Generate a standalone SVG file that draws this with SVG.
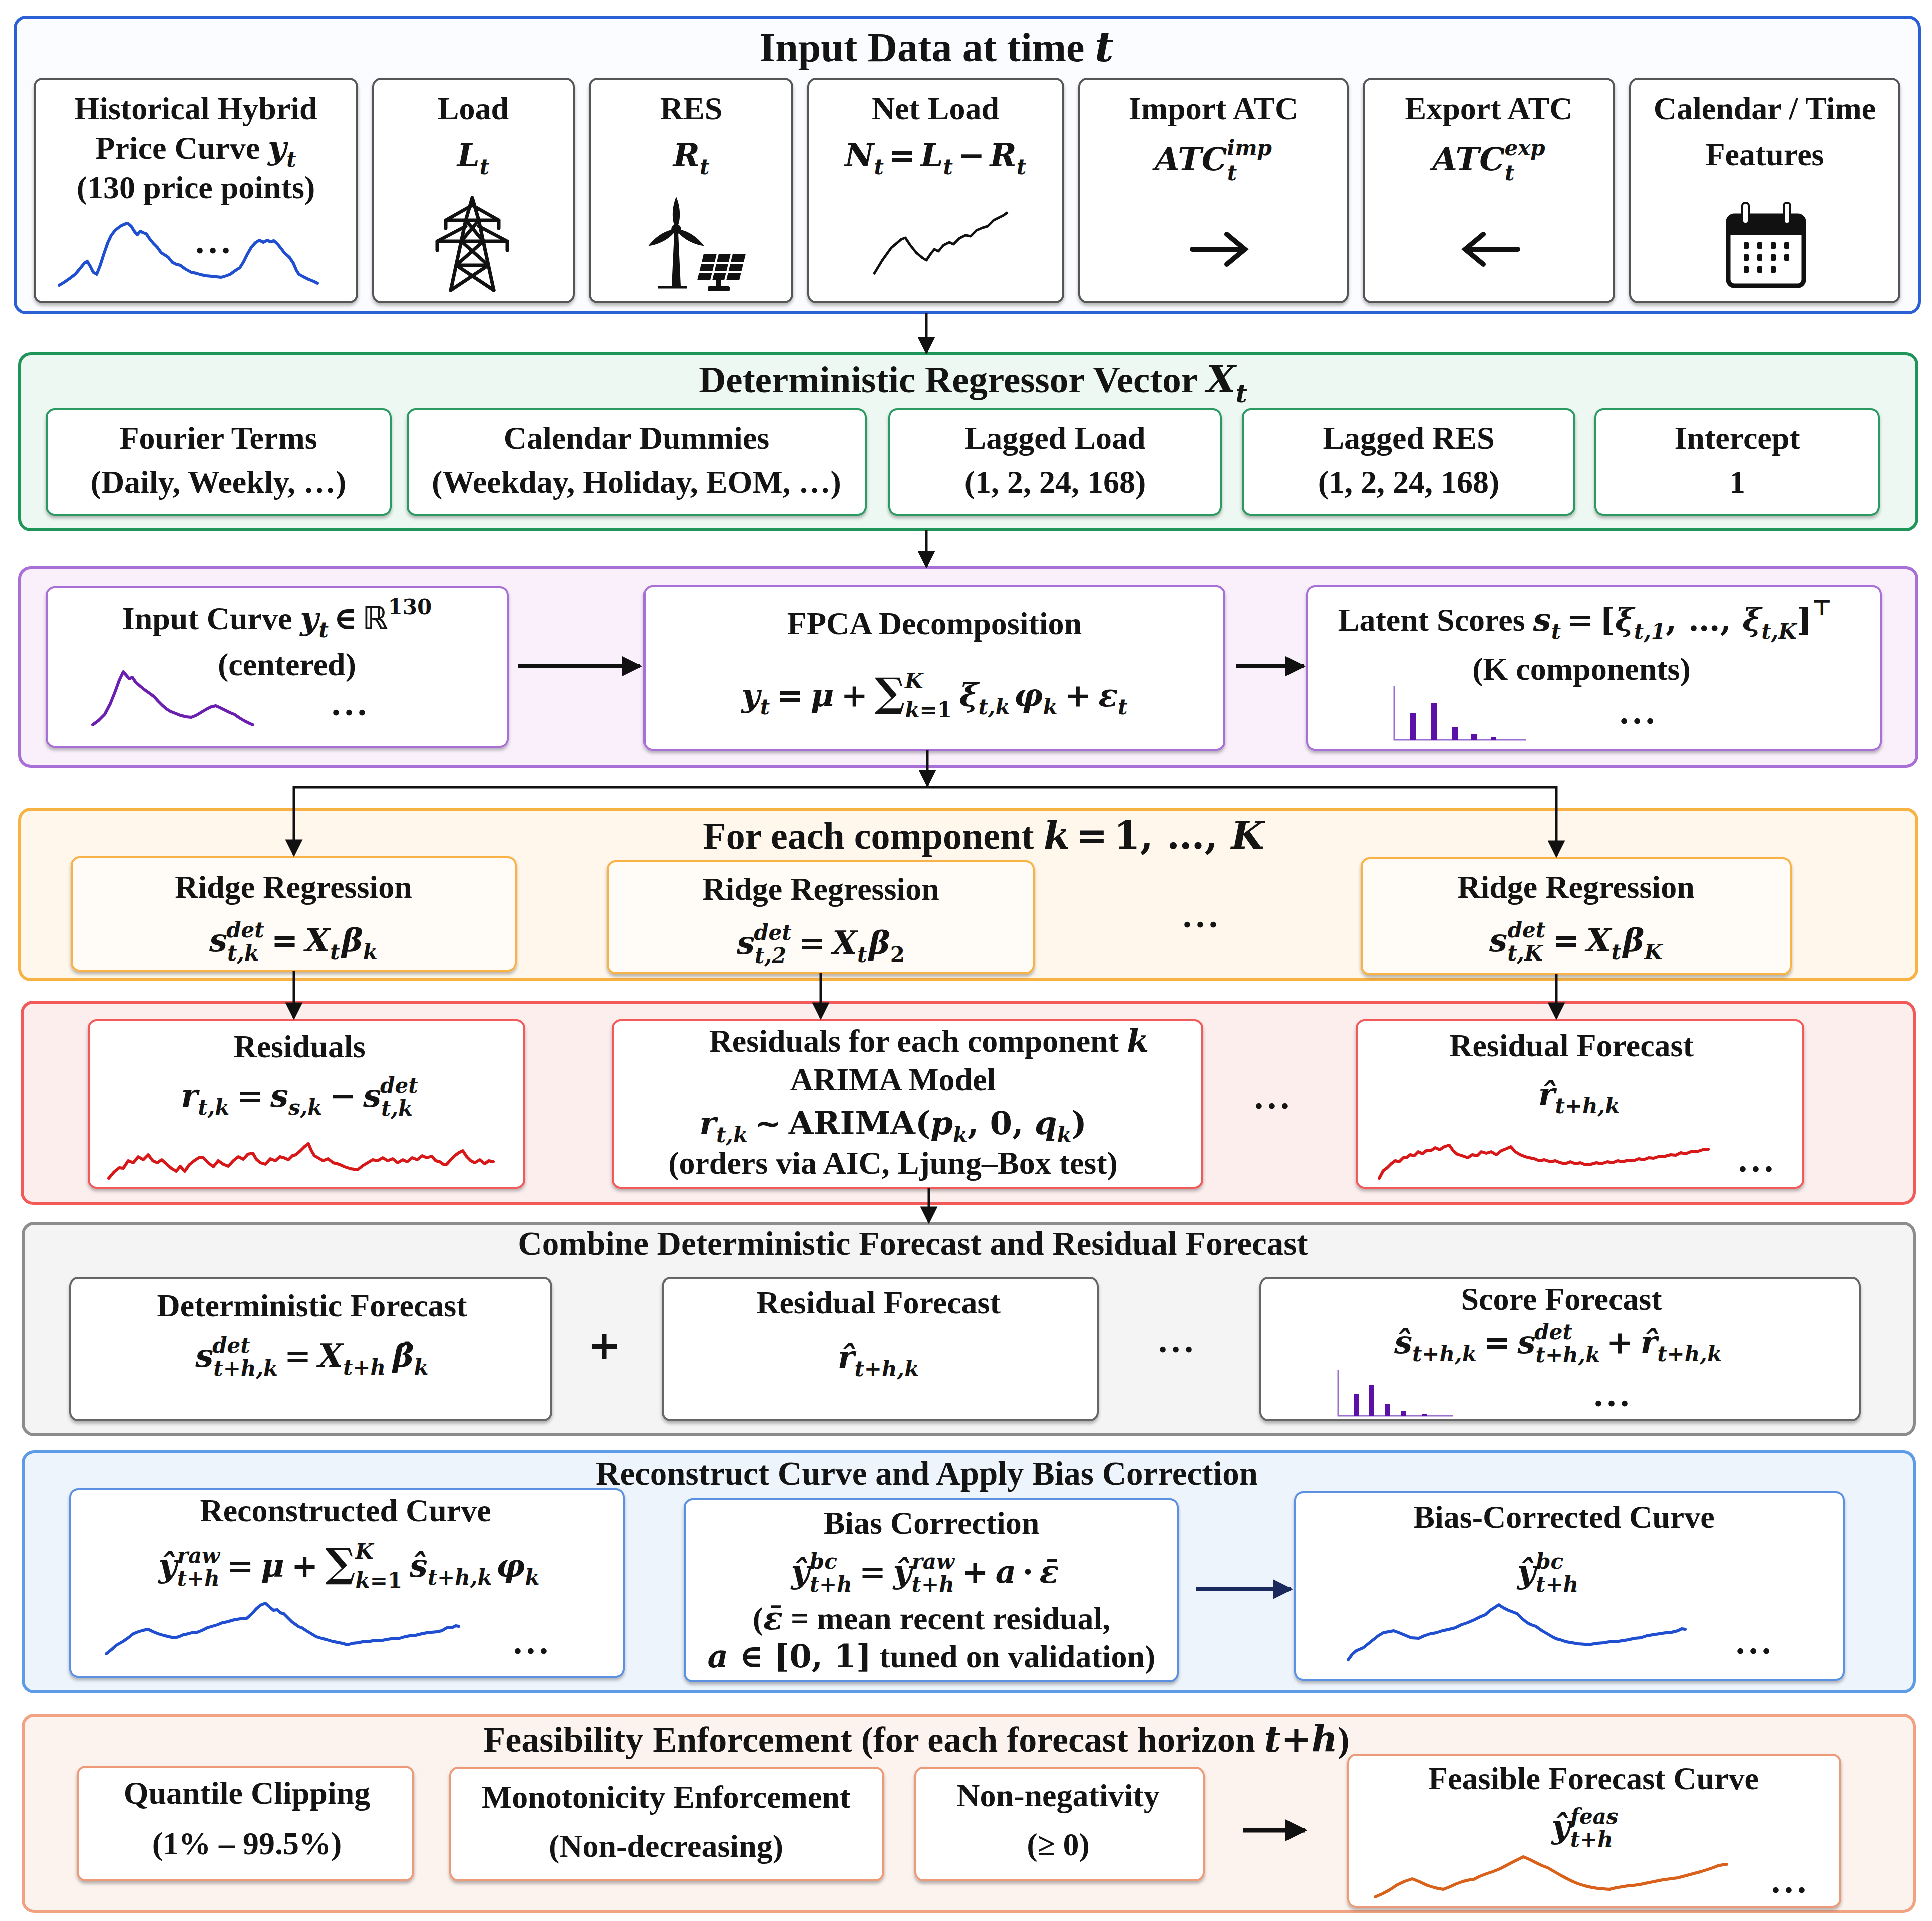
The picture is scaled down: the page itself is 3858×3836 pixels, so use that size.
<svg xmlns="http://www.w3.org/2000/svg" width="3858" height="3836" viewBox="0 0 3858 3836">
<defs>
<style>
text{font-family:"Liberation Serif","DejaVu Serif",serif;font-weight:bold;fill:#141414;text-anchor:middle}
.h1{font-size:82px}.h2{font-size:75px}.h4{font-size:76px}.h6{font-size:67px}.h7{font-size:67px}.h8{font-size:72px}
.b{font-size:64px}
.mf{font-family:"DejaVu Serif","DejaVu Sans",serif;font-size:64px}
.mi{font-family:"DejaVu Serif","DejaVu Sans",serif;font-style:italic}
.mu{font-family:"DejaVu Serif","DejaVu Sans",serif;font-style:normal}
.s{font-size:42px}
.dots{font-size:72px;letter-spacing:8px}
.sec{stroke-width:6}
.box{fill:#fff;stroke-width:4;filter:url(#sh)}
.conn{stroke:#111;stroke-width:5;fill:none;marker-end:url(#ah)}
.conn2{stroke:#111;stroke-width:8;fill:none;marker-end:url(#ah2)}
.curve{fill:none;stroke-width:6;stroke-linejoin:round;stroke-linecap:round}
.ic{fill:none;stroke:#111;stroke-width:7;stroke-linecap:round;stroke-linejoin:round}
</style>
<filter id="sh" x="-5%" y="-5%" width="110%" height="115%"><feDropShadow dx="0" dy="5" stdDeviation="3" flood-color="#000" flood-opacity="0.28"/></filter>
<marker id="ah" viewBox="0 0 10 10" refX="9" refY="5" markerWidth="8" markerHeight="7" orient="auto" markerUnits="strokeWidth"><path d="M0,0 L10,5 L0,10 z" fill="#111"/></marker>
<marker id="ah2" viewBox="0 0 10 10" refX="9" refY="5" markerWidth="5" markerHeight="5" orient="auto" markerUnits="strokeWidth"><path d="M0,0 L10,5 L0,10 z" fill="#111"/></marker>
<marker id="ah3" viewBox="0 0 10 10" refX="9" refY="5" markerWidth="5" markerHeight="5" orient="auto" markerUnits="strokeWidth"><path d="M0,0 L10,5 L0,10 z" fill="#1b2a5c"/></marker>
<path id="blade" d="M1350,458 C1339,440 1342,412 1350,393 C1358,412 1361,440 1350,458 Z"/>
</defs>
<rect width="3858" height="3836" fill="#ffffff"/>

<!-- ===== Section 1: Input Data ===== -->
<g id="sec-input">
<rect x="30" y="34" width="3803" height="591" rx="22" class="sec" fill="#fbfcff" stroke="#2b5fd4"/>
<text x="1870" y="122" class="h1">Input Data at time <tspan class="mi">t</tspan></text>
</g>
<g id="node-hist">
<rect x="69" y="157" width="644" height="447" rx="16" class="box" stroke="#555"/>
<text x="391" y="238" class="b">Historical Hybrid</text>
<text x="391" y="317" class="b">Price Curve <tspan class="mi">y</tspan><tspan class="mi s" dy="16">t</tspan></text>
<text x="391" y="396" class="b">(130 price points)</text>
<polyline class="curve" stroke="#1f4fd0" points="118,570 128,564 138,557 150,548 160,536 168,526 174,522 180,532 186,544 193,548 200,530 208,505 215,485 222,470 230,460 240,452 248,448 255,446 262,452 268,462 274,469 280,462 286,465 292,467 298,476 306,486 314,494 322,505 330,510 336,514 344,524 352,528 360,530 368,536 373,539 382,544 392,546 402,549 412,551 423,552 432,553 442,554 452,551 460,548 468,542 474,538 479,535 486,524 494,508 502,494 510,485 518,480 526,484 534,480 540,483 547,481 554,487 561,496 568,505 578,514 586,526 592,540 597,548 606,553 616,558 626,562 634,566"/>
<text x="429" y="506" class="dots">...</text>
</g>
<g id="node-load">
<rect x="745" y="157" width="401" height="447" rx="16" class="box" stroke="#555"/>
<text x="945" y="238" class="b">Load</text>
<text x="945" y="332" class="b"><tspan class="mi">L</tspan><tspan class="mi s" dy="16">t</tspan></text>
<g class="ic">
<path d="M943,395 L930,440 L900,580 M943,395 L956,440 L986,580"/>
<path d="M890,456 L890,440 L996,440 L996,456 M943,410 L890,440 M943,410 L996,440"/>
<path d="M873,500 L873,482 L1013,482 L1013,500 M930,452 L873,482 M956,452 L1013,482"/>
<path d="M930,440 L965,482 M956,440 L921,482 M921,482 L975,530 M965,482 L911,530 M911,530 L975,530 M911,530 L986,580 M975,530 L900,580"/>
</g>
</g>
<g id="node-res">
<rect x="1178" y="157" width="404" height="447" rx="16" class="box" stroke="#555"/>
<text x="1380" y="238" class="b">RES</text>
<text x="1380" y="332" class="b"><tspan class="mi">R</tspan><tspan class="mi s" dy="16">t</tspan></text>
<path d="M1346,466 L1354,466 L1359,572 L1341,572 Z" fill="#111"/>
<line x1="1313" y1="574" x2="1372" y2="574" stroke="#111" stroke-width="5"/>
<use href="#blade" fill="#111"/>
<use href="#blade" fill="#111" transform="rotate(121 1350 458)"/>
<use href="#blade" fill="#111" transform="rotate(239 1350 458)"/>
<circle cx="1350" cy="458" r="10" fill="#111"/>
<polygon points="1405,507 1489,507 1476,560 1392,560" fill="#111"/>
<path d="M1400,525 L1485,525 M1396,543 L1481,543 M1433,507 L1420,560 M1461,507 L1448,560" stroke="#fff" stroke-width="4"/>
<rect x="1430" y="560" width="10" height="14" fill="#111"/>
<rect x="1413" y="572" width="44" height="10" rx="3" fill="#111"/>
</g>
<g id="node-netload">
<rect x="1614" y="157" width="509" height="447" rx="16" class="box" stroke="#555"/>
<text x="1868" y="238" class="b">Net Load</text>
<text x="1868" y="332" class="b"><tspan class="mi">N</tspan><tspan class="mi s" dy="16">t</tspan><tspan class="mu" dx="10" dy="-16">=</tspan><tspan class="mi" dx="10">L</tspan><tspan class="mi s" dy="16">t</tspan><tspan class="mu" dx="10" dy="-16">−</tspan><tspan class="mi" dx="10">R</tspan><tspan class="mi s" dy="16">t</tspan></text>
<polyline fill="none" stroke="#111" stroke-width="5" stroke-linejoin="round" points="1745,548 1762,520 1780,495 1800,478 1808,475 1818,490 1830,505 1842,515 1850,520 1858,508 1866,498 1874,502 1884,490 1896,484 1904,488 1916,476 1928,470 1938,472 1950,460 1962,455 1972,452 1984,440 1996,434 2004,430 2012,424"/>
</g>
<g id="node-import">
<rect x="2155" y="157" width="536" height="447" rx="16" class="box" stroke="#555"/>
<text x="2423" y="238" class="b">Import ATC</text>
<text x="2423" y="340" class="b"><tspan class="mi">ATC</tspan><tspan class="mi s" dy="20">t</tspan><tspan class="mi s" dx="-20" dy="-50">imp</tspan></text>
<path d="M2381,498 L2480,498 M2450,468 L2486,498 L2450,528" fill="none" stroke="#111" stroke-width="10" stroke-linecap="round"/>
</g>
<g id="node-export">
<rect x="2723" y="157" width="500" height="447" rx="16" class="box" stroke="#555"/>
<text x="2973" y="238" class="b">Export ATC</text>
<text x="2973" y="340" class="b"><tspan class="mi">ATC</tspan><tspan class="mi s" dy="20">t</tspan><tspan class="mi s" dx="-20" dy="-50">exp</tspan></text>
<path d="M3031,498 L2932,498 M2962,468 L2926,498 L2962,528" fill="none" stroke="#111" stroke-width="10" stroke-linecap="round"/>
</g>
<g id="node-calendar">
<rect x="3255" y="157" width="538" height="447" rx="16" class="box" stroke="#555"/>
<text x="3524" y="238" class="b">Calendar / Time</text>
<text x="3524" y="330" class="b">Features</text>
<rect x="3451" y="431" width="151" height="140" rx="12" fill="#fff" stroke="#111" stroke-width="9"/>
<path d="M3451,470 V443 Q3451,431 3463,431 H3590 Q3602,431 3602,443 V470 Z" fill="#111"/>
<rect x="3479" y="405" width="13" height="42" rx="6" fill="#fff" stroke="#111" stroke-width="4"/>
<rect x="3562" y="405" width="13" height="42" rx="6" fill="#fff" stroke="#111" stroke-width="4"/>
<g fill="#111">
<rect x="3482" y="484" width="10" height="13" rx="2"/><rect x="3509" y="484" width="10" height="13" rx="2"/><rect x="3536" y="484" width="10" height="13" rx="2"/><rect x="3563" y="484" width="10" height="13" rx="2"/>
<rect x="3482" y="508" width="10" height="13" rx="2"/><rect x="3509" y="508" width="10" height="13" rx="2"/><rect x="3536" y="508" width="10" height="13" rx="2"/><rect x="3563" y="508" width="10" height="13" rx="2"/>
<rect x="3482" y="532" width="10" height="13" rx="2"/><rect x="3509" y="532" width="10" height="13" rx="2"/><rect x="3536" y="532" width="10" height="13" rx="2"/>
</g>
</g>

<!-- ===== Section 2: Deterministic Regressor Vector ===== -->
<g id="sec-regressor">
<rect x="39" y="706" width="3789" height="352" rx="22" class="sec" fill="#eef8f2" stroke="#1f955a"/>
<text x="1943" y="783" class="h2">Deterministic Regressor Vector <tspan class="mi">X</tspan><tspan class="mi" style="font-size:50px" dy="20">t</tspan></text>
</g>
<g id="node-fourier">
<rect x="93" y="817" width="687" height="211" rx="16" class="box" stroke="#2a9a62"/>
<text x="436" y="896" class="b">Fourier Terms</text>
<text x="436" y="984" class="b">(Daily, Weekly, …)</text>
</g>
<g id="node-caldummies">
<rect x="814" y="817" width="915" height="211" rx="16" class="box" stroke="#2a9a62"/>
<text x="1271" y="896" class="b">Calendar Dummies</text>
<text x="1271" y="984" class="b">(Weekday, Holiday, EOM, …)</text>
</g>
<g id="node-laggedload">
<rect x="1776" y="817" width="662" height="211" rx="16" class="box" stroke="#2a9a62"/>
<text x="2107" y="896" class="b">Lagged Load</text>
<text x="2107" y="984" class="b">(1, 2, 24, 168)</text>
</g>
<g id="node-laggedres">
<rect x="2482" y="817" width="662" height="211" rx="16" class="box" stroke="#2a9a62"/>
<text x="2813" y="896" class="b">Lagged RES</text>
<text x="2813" y="984" class="b">(1, 2, 24, 168)</text>
</g>
<g id="node-intercept">
<rect x="3186" y="817" width="566" height="211" rx="16" class="box" stroke="#2a9a62"/>
<text x="3469" y="896" class="b">Intercept</text>
<text x="3469" y="984" class="b">1</text>
</g>

<!-- ===== Section 3: FPCA ===== -->
<g id="sec-fpca">
<rect x="39" y="1134" width="3789" height="396" rx="22" class="sec" fill="#f9f0fc" stroke="#a86fd6"/>
</g>
<g id="node-inputcurve">
<rect x="93" y="1173" width="921" height="318" rx="16" class="box" stroke="#a86fd6"/>
<text x="553" y="1257" class="b">Input Curve <tspan class="mi">y</tspan><tspan class="mi s" dy="16">t</tspan><tspan class="mu" dx="10" dy="-16">∈</tspan><tspan class="mu" dx="10">ℝ</tspan><tspan class="mu s" dy="-30">130</tspan></text>
<text x="573" y="1348" class="b">(centered)</text>
<polyline class="curve" stroke="#6a1fb0" points="185,1447 197,1438 209,1426 220,1405 230,1380 238,1358 246,1341 252,1348 258,1355 264,1352 271,1362 280,1370 290,1378 300,1385 308,1391 316,1400 324,1408 332,1415 340,1420 350,1424 360,1428 372,1431 382,1432 392,1428 402,1422 412,1416 422,1411 431,1409 440,1413 450,1418 460,1423 468,1426 478,1433 488,1439 498,1444 505,1447"/>
<text x="701" y="1428" class="dots">...</text>
</g>
<g id="node-fpcadecomp">
<rect x="1287" y="1171" width="1158" height="326" rx="16" class="box" stroke="#a86fd6"/>
<text x="1866" y="1267" class="b">FPCA Decomposition</text>
<text x="1866" y="1410" class="mf"><tspan class="mi">y</tspan><tspan class="mi s" dy="16">t</tspan><tspan dx="14" dy="-16">=</tspan><tspan class="mi" dx="14">μ</tspan><tspan dx="14">+</tspan><tspan dx="14" style="font-size:80px">∑</tspan><tspan class="mi s" dy="22">k</tspan><tspan class="s">=1</tspan><tspan class="mi s" dx="-94" dy="-58">K</tspan><tspan class="mi" dx="72" dy="36">ξ</tspan><tspan class="mi s" dy="16">t,k</tspan><tspan class="mi" dx="8" dy="-16">φ</tspan><tspan class="mi s" dy="16">k</tspan><tspan dx="14" dy="-16">+</tspan><tspan class="mi" dx="14">ε</tspan><tspan class="mi s" dy="16">t</tspan></text>
</g>
<g id="node-latentscores">
<rect x="2610" y="1171" width="1146" height="326" rx="16" class="box" stroke="#a86fd6"/>
<text x="3165" y="1260" class="b">Latent Scores <tspan class="mi">s</tspan><tspan class="mi s" dy="16">t</tspan><tspan class="mu" dx="12" dy="-16">=</tspan><tspan class="mu" dx="12">[</tspan><tspan class="mi">ξ</tspan><tspan class="mi s" dy="16">t,1</tspan><tspan class="mu" dy="-16">, …, </tspan><tspan class="mi">ξ</tspan><tspan class="mi s" dy="16">t,K</tspan><tspan class="mu" dy="-16">]</tspan><tspan class="mu s" dy="-32">⊤</tspan></text>
<text x="3158" y="1357" class="b">(K components)</text>
<path d="M2784,1370 V1477 H3048" fill="none" stroke="#9a70d0" stroke-width="3"/>
<g fill="#5b10a8">
<rect x="2816" y="1423" width="12" height="54"/><rect x="2858" y="1403" width="12" height="74"/><rect x="2899" y="1452" width="12" height="25"/><rect x="2938" y="1465" width="12" height="12"/><rect x="2978" y="1472" width="10" height="5"/>
</g>
<text x="3273" y="1445" class="dots">...</text>
</g>

<!-- ===== Section 4: Ridge Regression ===== -->
<g id="sec-ridge">
<rect x="39" y="1616" width="3789" height="340" rx="22" class="sec" fill="#fff7ec" stroke="#f8b244"/>
<text x="1964" y="1695" class="h4">For each component <tspan class="mi">k</tspan><tspan class="mu" dx="12">=</tspan><tspan class="mu" dx="12">1, …, </tspan><tspan class="mi">K</tspan></text>
<text x="2401" y="1852" class="dots">...</text>
</g>
<g id="node-ridge1">
<rect x="143" y="1712" width="887" height="226" rx="16" class="box" stroke="#f8b244" style="fill:#fffcf7"/>
<text x="586" y="1793" class="b">Ridge Regression</text>
<text x="586" y="1900" class="mf"><tspan class="mi">s</tspan><tspan class="mi s" dy="18">t,k</tspan><tspan class="mi s" dx="-65" dy="-46">det</tspan><tspan dx="14" dy="28">=</tspan><tspan class="mi" dx="14">X</tspan><tspan class="mi s" dy="16">t</tspan><tspan class="mi" dx="4" dy="-16">β</tspan><tspan class="mi s" dy="16">k</tspan></text>
</g>
<g id="node-ridge2">
<rect x="1214" y="1720" width="850" height="223" rx="16" class="box" stroke="#f8b244" style="fill:#fffcf7"/>
<text x="1639" y="1797" class="b">Ridge Regression</text>
<text x="1639" y="1905" class="mf"><tspan class="mi">s</tspan><tspan class="mi s" dy="18">t,2</tspan><tspan class="mi s" dx="-65" dy="-46">det</tspan><tspan dx="14" dy="28">=</tspan><tspan class="mi" dx="14">X</tspan><tspan class="mi s" dy="16">t</tspan><tspan class="mi" dx="4" dy="-16">β</tspan><tspan class="mu s" dy="16">2</tspan></text>
</g>
<g id="node-ridgeK">
<rect x="2719" y="1714" width="857" height="231" rx="16" class="box" stroke="#f8b244" style="fill:#fffcf7"/>
<text x="3147" y="1793" class="b">Ridge Regression</text>
<text x="3147" y="1900" class="mf"><tspan class="mi">s</tspan><tspan class="mi s" dy="18">t,K</tspan><tspan class="mi s" dx="-70" dy="-46">det</tspan><tspan dx="14" dy="28">=</tspan><tspan class="mi" dx="14">X</tspan><tspan class="mi s" dy="16">t</tspan><tspan class="mi" dx="4" dy="-16">β</tspan><tspan class="mi s" dy="16">K</tspan></text>
</g>

<!-- ===== Section 5: Residuals / ARIMA ===== -->
<g id="sec-arima">
<rect x="44" y="2001" width="3779" height="402" rx="22" class="sec" fill="#fdeeee" stroke="#f25a5a"/>
<text x="2544" y="2214" class="dots">...</text>
</g>
<g id="node-residuals">
<rect x="177" y="2037" width="870" height="335" rx="16" class="box" stroke="#f25a5a"/>
<text x="598" y="2111" class="b">Residuals</text>
<text x="598" y="2210" class="mf"><tspan class="mi">r</tspan><tspan class="mi s" dy="16">t,k</tspan><tspan dx="14" dy="-16">=</tspan><tspan class="mi" dx="14">s</tspan><tspan class="mi s" dy="16">s,k</tspan><tspan dx="14" dy="-16">−</tspan><tspan class="mi" dx="14">s</tspan><tspan class="mi s" dy="18">t,k</tspan><tspan class="mi s" dx="-65" dy="-46">det</tspan></text>
<polyline class="curve" stroke="#d81818" points="217,2353 228,2340 238,2332 246,2333 256,2318 266,2322 276,2310 286,2316 296,2306 305,2318 314,2322 323,2316 333,2325 342,2333 352,2339 360,2329 369,2339 378,2326 388,2318 397,2312 406,2312 416,2322 426,2330 436,2318 446,2325 456,2329 466,2318 476,2310 486,2315 495,2305 505,2303 512,2315 520,2322 530,2325 540,2314 550,2318 559,2310 567,2312 576,2316 584,2308 591,2306 600,2298 608,2290 616,2284 622,2298 628,2308 635,2312 645,2318 655,2314 665,2322 677,2325 688,2330 700,2334 714,2336 724,2328 734,2322 744,2316 754,2318 764,2312 774,2318 784,2314 794,2322 804,2316 813,2320 823,2312 833,2316 843,2308 852,2312 862,2309 870,2318 878,2320 885,2325 892,2325 900,2316 908,2308 916,2302 924,2298 932,2310 940,2318 948,2322 958,2316 968,2324 976,2318 985,2320"/>
</g>
<g id="node-arima">
<rect x="1224" y="2037" width="1177" height="335" rx="16" class="box" stroke="#f25a5a"/>
<text x="1855" y="2100" class="b">Residuals for each component <tspan class="mi">k</tspan></text>
<text x="1783" y="2177" class="b">ARIMA Model</text>
<text x="1783" y="2265" class="mf"><tspan class="mi">r</tspan><tspan class="mi s" dy="16">t,k</tspan><tspan dx="14" dy="-16">~</tspan><tspan dx="14">ARIMA(</tspan><tspan class="mi">p</tspan><tspan class="mi s" dy="16">k</tspan><tspan dy="-16">, 0, </tspan><tspan class="mi">q</tspan><tspan class="mi s" dy="16">k</tspan><tspan dy="-16">)</tspan></text>
<text x="1783" y="2344" class="b">(orders via AIC, Ljung–Box test)</text>
</g>
<g id="node-residualforecast">
<rect x="2709" y="2037" width="892" height="335" rx="16" class="box" stroke="#f25a5a"/>
<text x="3138" y="2109" class="b">Residual Forecast</text>
<text x="3153" y="2207" class="mf"><tspan class="mi">r̂</tspan><tspan class="mi s" dy="16">t+h,k</tspan></text>
<polyline class="curve" stroke="#d81818" points="2754,2353 2762,2338 2770,2332 2778,2324 2786,2318 2794,2320 2802,2312 2808,2312 2816,2306 2824,2308 2832,2300 2840,2304 2848,2298 2857,2298 2866,2292 2875,2296 2884,2290 2894,2287 2902,2298 2910,2305 2920,2308 2931,2312 2940,2306 2950,2308 2958,2300 2968,2303 2978,2300 2988,2306 2998,2298 3008,2294 3017,2290 3026,2300 3036,2306 3046,2310 3054,2312 3064,2314 3074,2318 3084,2316 3096,2320 3106,2318 3116,2322 3126,2324 3136,2320 3146,2324 3156,2322 3166,2326 3177,2325 3188,2322 3198,2324 3210,2320 3220,2322 3230,2318 3240,2320 3251,2317 3262,2318 3272,2314 3282,2316 3292,2312 3302,2313 3314,2309 3325,2309 3336,2306 3346,2307 3356,2302 3366,2304 3376,2300 3388,2300 3400,2296 3411,2295"/>
<text x="3510" y="2340" class="dots">...</text>
</g>

<!-- ===== Section 6: Combine ===== -->
<g id="sec-combine">
<rect x="46" y="2443" width="3777" height="422" rx="22" class="sec" fill="#f4f4f4" stroke="#8c8c8c"/>
<text x="1823" y="2506" class="h6">Combine Deterministic Forecast and Residual Forecast</text>
<text x="1207" y="2714" class="mu" style="font-size:80px">+</text>
<text x="2352" y="2700" class="dots">...</text>
</g>
<g id="node-detforecast">
<rect x="140" y="2552" width="961" height="284" rx="16" class="box" stroke="#666"/>
<text x="623" y="2628" class="b">Deterministic Forecast</text>
<text x="623" y="2729" class="mf"><tspan class="mi">s</tspan><tspan class="mi s" dy="18">t+h,k</tspan><tspan class="mi s" dx="-131" dy="-46">det</tspan><tspan dx="68" dy="28">=</tspan><tspan class="mi" dx="14">X</tspan><tspan class="mi s" dy="16">t+h</tspan><tspan class="mi" dx="14" dy="-16">β̂</tspan><tspan class="mi s" dy="16">k</tspan></text>
</g>
<g id="node-resforecast2">
<rect x="1323" y="2552" width="869" height="284" rx="16" class="box" stroke="#666"/>
<text x="1754" y="2622" class="b">Residual Forecast</text>
<text x="1754" y="2732" class="mf"><tspan class="mi">r̂</tspan><tspan class="mi s" dy="16">t+h,k</tspan></text>
</g>
<g id="node-scoreforecast">
<rect x="2517" y="2552" width="1197" height="284" rx="16" class="box" stroke="#666"/>
<text x="3118" y="2615" class="b">Score Forecast</text>
<text x="3111" y="2702" class="mf"><tspan class="mi">ŝ</tspan><tspan class="mi s" dy="16">t+h,k</tspan><tspan dx="14" dy="-16">=</tspan><tspan class="mi" dx="14">s</tspan><tspan class="mi s" dy="18">t+h,k</tspan><tspan class="mi s" dx="-131" dy="-46">det</tspan><tspan dx="68" dy="28">+</tspan><tspan class="mi" dx="14">r̂</tspan><tspan class="mi s" dy="16">t+h,k</tspan></text>
<path d="M2672,2735 V2827 H2901" fill="none" stroke="#9a70d0" stroke-width="3"/>
<g fill="#5b10a8">
<rect x="2704" y="2784" width="10" height="43"/><rect x="2734" y="2766" width="10" height="61"/><rect x="2766" y="2803" width="10" height="24"/><rect x="2798" y="2817" width="10" height="10"/><rect x="2840" y="2823" width="9" height="4"/>
</g>
<text x="3222" y="2808" class="dots">...</text>
</g>

<!-- ===== Section 7: Reconstruct ===== -->
<g id="sec-reconstruct">
<rect x="46" y="2899" width="3777" height="479" rx="22" class="sec" fill="#edf4fc" stroke="#5c9be6"/>
<text x="1851" y="2965" class="h7">Reconstruct Curve and Apply Bias Correction</text>
</g>
<g id="node-reconstructed">
<rect x="140" y="2974" width="1106" height="374" rx="16" class="box" stroke="#5c90e0"/>
<text x="690" y="3038" class="b">Reconstructed Curve</text>
<text x="697" y="3149" class="mf"><tspan class="mi">ŷ</tspan><tspan class="mi s" dy="18">t+h</tspan><tspan class="mi s" dx="-85" dy="-46">raw</tspan><tspan dx="14" dy="28">=</tspan><tspan class="mi" dx="14">μ</tspan><tspan dx="14">+</tspan><tspan dx="14" style="font-size:80px">∑</tspan><tspan class="mi s" dy="22">k</tspan><tspan class="s">=1</tspan><tspan class="mi s" dx="-94" dy="-58">K</tspan><tspan class="mi" dx="72" dy="36">ŝ</tspan><tspan class="mi s" dy="16">t+h,k</tspan><tspan class="mi" dx="8" dy="-16">φ</tspan><tspan class="mi s" dy="16">k</tspan></text>
<polyline class="curve" stroke="#1f4fd0" points="212,3302 222,3294 232,3285 246,3277 256,3270 266,3262 276,3258 286,3255 296,3253 306,3258 316,3262 326,3265 338,3268 348,3270 357,3268 366,3264 376,3262 386,3259 394,3259 404,3255 414,3250 424,3247 434,3244 444,3240 454,3238 468,3234 480,3232 493,3231 503,3222 512,3212 520,3205 530,3201 538,3208 546,3215 554,3214 560,3220 567,3222 575,3230 583,3238 590,3243 597,3248 603,3250 612,3256 622,3262 632,3268 642,3271 653,3274 663,3277 673,3279 683,3281 694,3284 704,3281 714,3280 724,3278 734,3278 744,3276 754,3275 764,3275 774,3273 788,3271 798,3271 808,3268 818,3266 830,3265 842,3262 852,3260 862,3259 872,3258 882,3256 892,3250 902,3250 910,3246 916,3247"/>
<text x="1064" y="3302" class="dots">...</text>
</g>
<g id="node-biascorrection">
<rect x="1367" y="2994" width="985" height="363" rx="16" class="box" stroke="#5c90e0"/>
<text x="1860" y="3063" class="b">Bias Correction</text>
<text x="1847" y="3161" class="mf"><tspan class="mi">ŷ</tspan><tspan class="mi s" dy="18">t+h</tspan><tspan class="mi s" dx="-85" dy="-46">bc</tspan><tspan dx="44" dy="28">=</tspan><tspan class="mi" dx="14">ŷ</tspan><tspan class="mi s" dy="18">t+h</tspan><tspan class="mi s" dx="-85" dy="-46">raw</tspan><tspan dx="14" dy="28">+</tspan><tspan class="mi" dx="14">a</tspan><tspan dx="12">·</tspan><tspan class="mi" dx="12">ε̄</tspan></text>
<text x="1860" y="3253" class="b">(<tspan class="mi">ε̄</tspan> = mean recent residual,</text>
<text x="1860" y="3329" class="b"><tspan class="mi">a</tspan><tspan class="mu"> ∈ [0, 1]</tspan> tuned on validation)</text>
</g>
<g id="node-biascorrected">
<rect x="2586" y="2980" width="1096" height="374" rx="16" class="box" stroke="#5c90e0"/>
<text x="3123" y="3051" class="b">Bias-Corrected Curve</text>
<text x="3091" y="3161" class="mf"><tspan class="mi">ŷ</tspan><tspan class="mi s" dy="18">t+h</tspan><tspan class="mi s" dx="-85" dy="-46">bc</tspan></text>
<polyline class="curve" stroke="#1f4fd0" points="2692,3314 2700,3303 2708,3296 2722,3290 2732,3282 2742,3274 2752,3266 2762,3260 2772,3258 2783,3256 2794,3260 2806,3265 2818,3270 2833,3271 2844,3266 2856,3262 2868,3260 2880,3256 2894,3253 2906,3250 2918,3244 2930,3240 2944,3234 2956,3228 2966,3224 2976,3215 2984,3210 2993,3204 3002,3210 3012,3215 3020,3218 3030,3222 3040,3232 3050,3240 3058,3244 3067,3247 3078,3255 3090,3262 3100,3268 3108,3272 3116,3274 3128,3278 3140,3280 3152,3282 3165,3283 3177,3283 3190,3281 3202,3280 3214,3278 3226,3278 3238,3276 3251,3274 3264,3271 3276,3270 3288,3266 3300,3264 3313,3262 3326,3260 3338,3259 3350,3256 3358,3252 3365,3253"/>
<text x="3505" y="3302" class="dots">...</text>
</g>

<!-- ===== Section 8: Feasibility ===== -->
<g id="sec-feasibility">
<rect x="46" y="3425" width="3777" height="392" rx="22" class="sec" fill="#fdf3ee" stroke="#f0a283"/>
<text x="1830" y="3498" class="h8">Feasibility Enforcement (for each forecast horizon <tspan class="mi">t</tspan><tspan class="mu">+</tspan><tspan class="mi">h</tspan>)</text>
</g>
<g id="node-quantile">
<rect x="155" y="3528" width="670" height="227" rx="16" class="box" stroke="#ec9a78"/>
<text x="493" y="3602" class="b">Quantile Clipping</text>
<text x="493" y="3703" class="b">(1% – 99.5%)</text>
</g>
<g id="node-monotonicity">
<rect x="899" y="3530" width="865" height="225" rx="16" class="box" stroke="#ec9a78"/>
<text x="1330" y="3610" class="b">Monotonicity Enforcement</text>
<text x="1330" y="3708" class="b">(Non-decreasing)</text>
</g>
<g id="node-nonneg">
<rect x="1828" y="3530" width="576" height="225" rx="16" class="box" stroke="#ec9a78"/>
<text x="2113" y="3607" class="b">Non-negativity</text>
<text x="2113" y="3705" class="b">(≥ 0)</text>
</g>
<g id="node-feasible">
<rect x="2692" y="3504" width="983" height="304" rx="16" class="box" stroke="#ec9a78"/>
<text x="3182" y="3573" class="b">Feasible Forecast Curve</text>
<text x="3165" y="3670" class="mf"><tspan class="mi">ŷ</tspan><tspan class="mi s" dy="18">t+h</tspan><tspan class="mi s" dx="-85" dy="-46">feas</tspan></text>
<polyline class="curve" stroke="#d9611a" points="2746,3788 2760,3782 2775,3774 2790,3764 2805,3757 2820,3752 2835,3758 2850,3765 2866,3770 2882,3773 2895,3768 2908,3762 2922,3757 2935,3754 2943,3753 2955,3747 2968,3742 2980,3738 2993,3733 3005,3727 3018,3720 3030,3714 3042,3708 3054,3713 3066,3719 3078,3725 3091,3730 3103,3737 3115,3744 3128,3751 3140,3757 3152,3762 3165,3766 3178,3769 3190,3771 3202,3772 3214,3773 3226,3770 3238,3768 3250,3766 3262,3765 3276,3763 3290,3760 3305,3757 3320,3754 3335,3752 3350,3750 3365,3746 3380,3742 3395,3738 3411,3733 3420,3730 3430,3726 3440,3724 3448,3723"/>
<text x="3576" y="3780" class="dots">...</text>
</g>

<!-- ===== Connectors ===== -->
<g id="connectors">
<line x1="1850" y1="625" x2="1850" y2="704" class="conn"/>
<line x1="1850" y1="1058" x2="1850" y2="1132" class="conn"/>
<line x1="1034" y1="1330" x2="1279" y2="1330" class="conn2"/>
<line x1="2468" y1="1330" x2="2603" y2="1330" class="conn2"/>
<line x1="1852" y1="1497" x2="1852" y2="1569" class="conn"/>
<path d="M1852,1572 H587 V1708" class="conn"/>
<path d="M1852,1572 H3108 V1710" class="conn"/>
<line x1="587" y1="1938" x2="587" y2="2033" class="conn"/>
<line x1="1639" y1="1943" x2="1639" y2="2033" class="conn"/>
<line x1="3108" y1="1945" x2="3108" y2="2033" class="conn"/>
<line x1="1855" y1="2372" x2="1855" y2="2441" class="conn"/>
<line x1="2389" y1="3174" x2="2578" y2="3174" stroke="#1b2a5c" stroke-width="8" marker-end="url(#ah3)"/>
<line x1="2483" y1="3655" x2="2606" y2="3655" class="conn2" style="stroke-width:9"/>
</g>
</svg>
